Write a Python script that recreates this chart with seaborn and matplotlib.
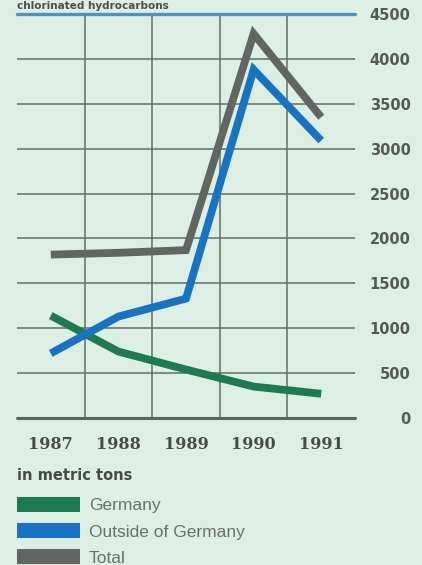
import pandas as pd
import matplotlib.pyplot as plt
import seaborn as sns
from matplotlib.patches import Patch

# Values (metric tons)
years = [1987, 1988, 1989, 1990, 1991]
germany = [1140, 740, 540, 350, 270]
outside = [720, 1130, 1330, 3880, 3090]
total = [1820, 1840, 1870, 4280, 3350]
y_ticks = [0, 500, 1000, 1500, 2000, 2500, 3000, 3500, 4000, 4500]

series_names = ["Germany", "Outside of Germany", "Total"]
colors = {"Germany": "#1d7a52", "Outside of Germany": "#1a73c2", "Total": "#616563"}

rows = []
for name, vals in zip(series_names, [germany, outside, total]):
    for yr, v in zip(years, vals):
        rows.append([yr, v, name])
my_data = pd.DataFrame(rows, columns=["Year", "Tons", "Series"])

bg = "#ddefe4"
grid_col = "#5f6e66"

sns.set_style("white")
plt.rcParams["font.family"] = ["DejaVu Sans"]

fig = plt.figure(figsize=(4.22, 5.65), dpi=100, facecolor=bg)
ax = fig.add_axes([17 / 422, 1 - 418 / 565, 338 / 422, 404 / 565])
ax.set_facecolor(bg)

ax.set_xlim(1986.5, 1991.5)
ax.set_ylim(0, 4500)

# grid: vertical lines between the years, horizontal every 500
ax.set_xticks(years)
ax.set_xticks([1987.5, 1988.5, 1989.5, 1990.5], minor=True)
ax.set_yticks(y_ticks)
ax.grid(which="minor", axis="x", color=grid_col, linewidth=1.1)
ax.grid(which="major", axis="y", color=grid_col, linewidth=1.1)
ax.grid(which="major", axis="x", visible=False)
ax.axhline(4500, color="#4b94bf", linewidth=2.4, zorder=1.5, clip_on=False)
ax.axhline(0, color="#58645e", linewidth=2.2, zorder=1.5, clip_on=False)

sns.lineplot(data=my_data, x="Year", y="Tons", hue="Series",
             hue_order=["Total", "Germany", "Outside of Germany"],
             palette=colors, linewidth=5.6, legend=False, ax=ax,
             solid_capstyle="butt", solid_joinstyle="miter", zorder=3)

for s in ax.spines.values():
    s.set_visible(False)

ax.set_xlabel("")
ax.set_ylabel("")
ax.yaxis.tick_right()
ax.tick_params(axis="both", which="both", length=0)
ax.tick_params(axis="y", pad=40)
ax.tick_params(axis="x", pad=13)
ax.set_xticklabels([str(y) for y in years], family="DejaVu Serif",
                   fontweight="bold", fontsize=11.5, color="#474a48")
ax.set_yticklabels([str(v) for v in y_ticks], fontweight="bold",
                   fontsize=10.5, color="#545856", ha="right")

# heading squeezed into the strip above the top line
fig.text(17 / 422, 1 - 9 / 565, "chlorinated hydrocarbons", fontsize=7.5,
         fontweight="bold", color="#4a4d4b", va="baseline", ha="left")

fig.text(17 / 422, 1 - 476 / 565, "in metric tons", fontsize=10.5,
         fontweight="bold", color="#474a48", va="center", ha="left")

handles = [Patch(facecolor=colors[n], edgecolor="none") for n in series_names]
leg = fig.legend(handles, series_names, loc="upper left",
                 bbox_to_anchor=(17 / 422, 1 - 497 / 565),
                 frameon=False, handlelength=3.6,
                 handleheight=0.95, handletextpad=0.55, labelspacing=0.56,
                 borderpad=0, borderaxespad=0,
                 prop={"family": ["Liberation Sans", "DejaVu Sans"], "size": 12.5})
for t in leg.get_texts():
    t.set_color("#6b6f6d")

fig.savefig("out.png", dpi=100, facecolor=bg)
